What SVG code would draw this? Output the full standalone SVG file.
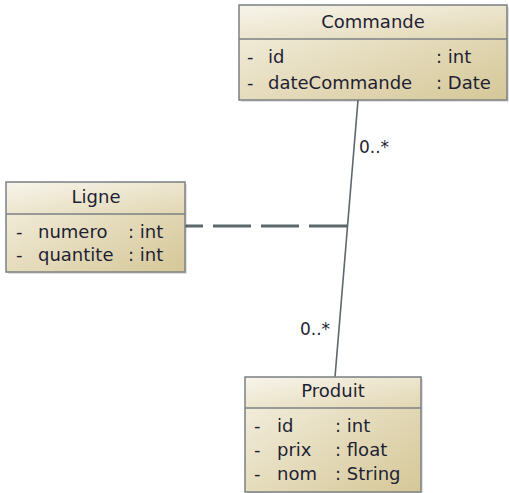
<svg xmlns="http://www.w3.org/2000/svg" width="509" height="493" viewBox="0 0 509 493">
<style>
.box{fill:url(#body);stroke:#7b8084;stroke-width:1.5}
.hdr{fill:url(#head)}
.sep{stroke:#7b8084;stroke-width:1.5}
.shadow{fill:#000;opacity:0.12}
text{font-family:"DejaVu Sans",Verdana,sans-serif;font-size:18px;fill:#1f1f33}
.t{text-anchor:middle}
.conn{stroke:#5d676c;fill:none}
.lbl{font-size:17px}
</style>
<defs>
<linearGradient id="body" x1="0" y1="0" x2="1" y2="1">
<stop offset="0" stop-color="#f6f2e5"/>
<stop offset="1" stop-color="#d5c797"/>
</linearGradient>
<linearGradient id="head" x1="0" y1="0" x2="1" y2="1">
<stop offset="0" stop-color="#f7f4ea"/>
<stop offset="1" stop-color="#e2d7b3"/>
</linearGradient>
</defs>
<g id="connectors">
<line class="conn" x1="358" y1="100" x2="335" y2="377" stroke-width="1.6"/>
<line class="conn" x1="347" y1="226" x2="185" y2="226" stroke-width="3" stroke-dasharray="38 10"/>
<text class="lbl" x="359" y="153">0..*</text>
<text class="lbl" x="300" y="335">0..*</text>
</g>
<g id="Commande">
<rect class="shadow" x="241" y="7" width="268" height="95"/>
<rect class="box" x="239" y="5" width="268" height="95"/>
<rect class="hdr" x="240" y="6" width="266" height="33"/>
<line class="sep" x1="239" y1="39" x2="507" y2="39"/>
<text class="t" x="373" y="28">Commande</text>
<text x="247" y="63">-</text><text x="268" y="63">id</text><text x="436" y="63">: int</text>
<text x="247" y="89">-</text><text x="268" y="89">dateCommande</text><text x="436" y="89">: Date</text>
</g>
<g id="Ligne">
<rect class="shadow" x="8" y="184" width="179" height="90"/>
<rect class="box" x="6" y="182" width="179" height="90"/>
<rect class="hdr" x="7" y="183" width="177" height="31"/>
<line class="sep" x1="6" y1="214" x2="185" y2="214"/>
<text class="t" x="96" y="203">Ligne</text>
<text x="16" y="238">-</text><text x="38" y="238">numero</text><text x="128" y="238">: int</text>
<text x="16" y="261">-</text><text x="38" y="261">quantite</text><text x="128" y="261">: int</text>
</g>
<g id="Produit">
<rect class="shadow" x="247" y="379" width="176" height="115"/>
<rect class="box" x="245" y="377" width="176" height="115"/>
<rect class="hdr" x="246" y="378" width="174" height="30"/>
<line class="sep" x1="245" y1="408" x2="421" y2="408"/>
<text class="t" x="333" y="397">Produit</text>
<text x="254" y="432">-</text><text x="277" y="432">id</text><text x="335" y="432">: int</text>
<text x="254" y="456">-</text><text x="277" y="456">prix</text><text x="335" y="456">: float</text>
<text x="254" y="480">-</text><text x="277" y="480">nom</text><text x="335" y="480">: String</text>
</g>
</svg>
